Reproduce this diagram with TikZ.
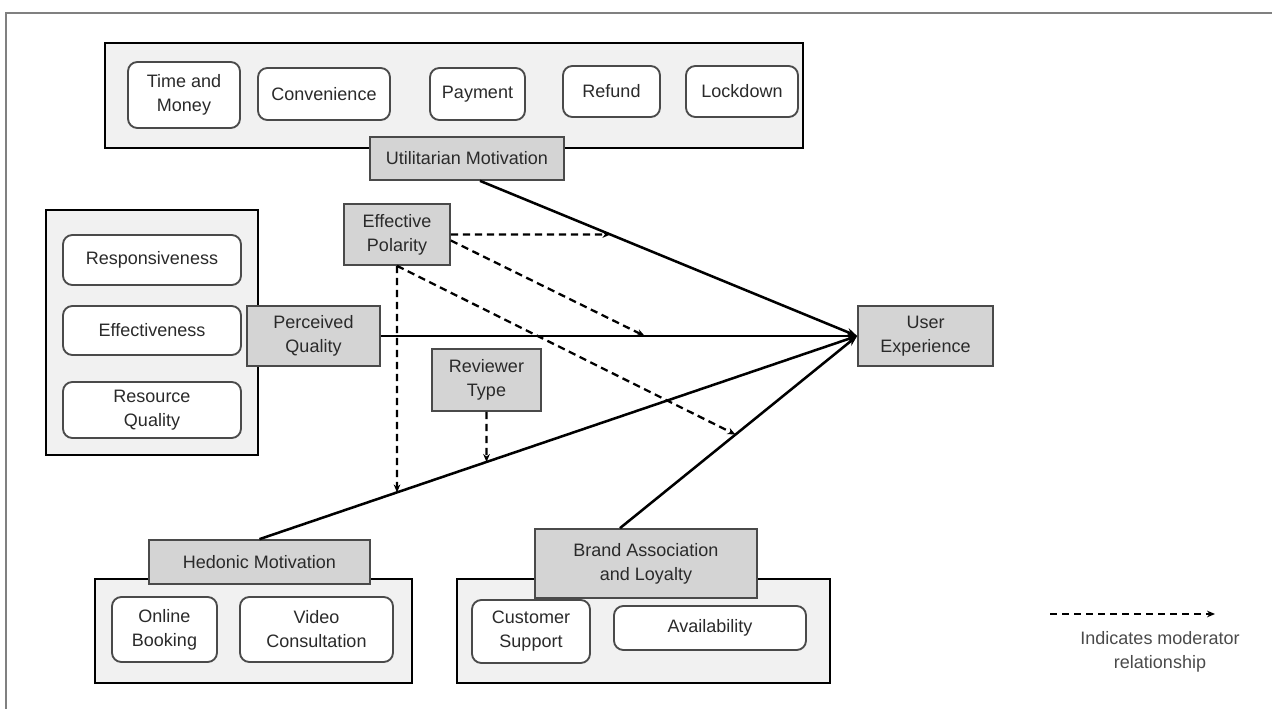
\documentclass[tikz,border=0pt]{standalone}
\usepackage{fontspec}
\setmainfont{Liberation Sans}
\usetikzlibrary{arrows.meta,calc}
\definecolor{txt}{HTML}{2A2A2A}
\definecolor{outerfill}{HTML}{F1F1F1}
\definecolor{itemdraw}{HTML}{4A4A4A}
\definecolor{factorfill}{HTML}{D4D4D4}
\definecolor{factordraw}{HTML}{4A4A4A}
\begin{document}
\begin{tikzpicture}[x=0.75pt,y=-0.75pt,
  wh/.style 2 args={minimum width=#1*0.75pt,minimum height=#2*0.75pt},
  base/.style={inner sep=0pt, align=center, text=txt, font=\fontsize{13.5}{18}\selectfont},
  outerbox/.style={draw=black, line width=2pt, fill=outerfill, inner sep=0pt},
  item/.style={base, draw=itemdraw, line width=1.4pt, fill=white, rounded corners=7pt},
  factor/.style={base, draw=factordraw, line width=1.3pt, fill=factorfill},
  link/.style={line width=1.9pt, -{Stealth[length=8pt,width=6pt]}},
  moder/.style={line width=1.7pt, dash pattern=on 5.5pt off 3.5pt, -{Stealth[length=6pt,width=5pt]}}]

\useasboundingbox (0,0) rectangle (1272,709);
\coordinate (frBL) at (6,709);
\coordinate (frTL) at (6,13);
\coordinate (frTR) at (1272,13);
\draw[gray, line width=1pt] (frBL) -- (frTL) -- (frTR);

% outer group boxes
\node[outerbox, wh={698}{105}] (topbox) at (454,95.5) {};
\node[outerbox, wh={212}{245}] (leftbox) at (152,332.5) {};
\node[outerbox, wh={317}{104}] (blbox) at (253.5,631) {};
\node[outerbox, wh={373}{104}] (brbox) at (643.5,631) {};

% items
\node[item, wh={112}{66}] (TM) at (184,95) {Time and\\Money};
\node[item, wh={132}{52}] (Conv) at (324,94) {Convenience};
\node[item, wh={95}{52}] (Pay) at (477.5,94) {Payment};
\node[item, wh={97}{51}] (Ref) at (611.5,91.5) {Refund};
\node[item, wh={112}{51}] (Lock) at (742,91.5) {Lockdown};

\node[item, wh={178}{50}] (Resp) at (152,260) {Responsiveness};
\node[item, wh={178}{49}] (Effv) at (152,330.5) {Effectiveness};
\node[item, wh={178}{56}] (ResQ) at (152,410) {Resource\\Quality};

\node[item, wh={105}{65}] (OB) at (164.5,629.5) {Online\\Booking};
\node[item, wh={153}{65}] (VC) at (316.5,629.5) {Video\\Consultation};
\node[item, wh={118}{63}] (CS) at (531,631.5) {Customer\\Support};
\node[item, wh={192}{44}] (Av) at (710,628) {Availability};

% factors
\node[factor, wh={194}{43}] (Util) at (467,158.5) {Utilitarian Motivation};
\node[factor, wh={133}{60}] (PQ) at (313.5,336) {Perceived\\Quality};
\node[factor, wh={106}{61}] (EP) at (397,234.5) {Effective\\Polarity};
\node[factor, wh={109}{62}] (RT) at (486.5,380) {Reviewer\\Type};
\node[factor, wh={135}{60}] (UE) at (925.5,336) {User\\Experience};
\node[factor, wh={221}{44}] (HM) at (259.5,562) {Hedonic Motivation};
\node[factor, wh={222}{69}] (BA) at (646,563.5) {Brand Association\\and Loyalty};

% main links
\coordinate (uStart) at ($(Util.south)+(13,0)$);
\coordinate (bStart) at ($(BA.north)+(-26,0)$);
\draw[link] (uStart) -- (UE.west);
\draw[link] (PQ.east) -- (UE.west);
\draw[link] (HM.north) -- (UE.west);
\draw[link] (bStart) -- (UE.west);

% moderator links
\coordinate (epE2) at ($(EP.east)+(0,6)$);
\coordinate (m1) at (intersection cs: first line={(EP.east)--(EP.east -| UE.west)}, second line={(uStart)--(UE.west)});
\coordinate (m2) at ($(PQ.east)!0.554!(UE.west)$);
\coordinate (m3) at ($(bStart)!0.487!(UE.west)$);
\coordinate (m4) at (intersection cs: first line={(EP.south)--(EP.south |- HM.south)}, second line={(HM.north)--(UE.west)});
\coordinate (m5) at (intersection cs: first line={(RT.south)--(RT.south |- HM.south)}, second line={(HM.north)--(UE.west)});
\draw[moder] (EP.east) -- (m1);
\draw[moder] (epE2) -- (m2);
\draw[moder] (EP.south) -- (m3);
\draw[moder] (EP.south) -- (m4);
\draw[moder] (RT.south) -- (m5);

% legend
\coordinate (lgA) at (1050,614);
\coordinate (lgB) at (1215,614);
\draw[moder] (lgA) -- (lgB);
\node[base, text=txt!85] (lgT) at (1160,652) {Indicates moderator\\relationship};
\end{tikzpicture}
\end{document}
